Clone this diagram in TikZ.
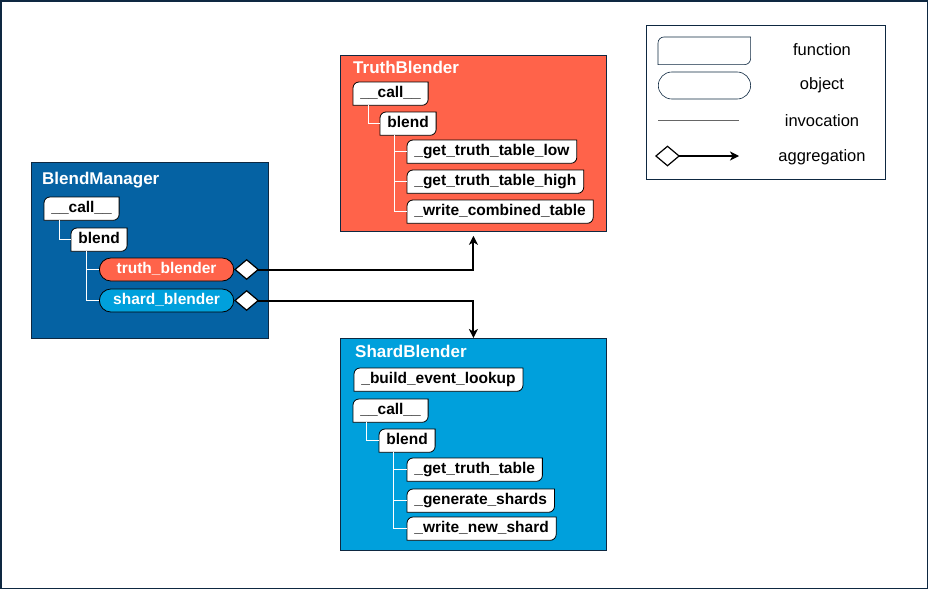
\documentclass[tikz,border=0pt]{standalone}
\usepackage{fontspec}
\setmainfont{Liberation Sans}
\usetikzlibrary{arrows.meta, positioning, shapes.misc}

\definecolor{framenavy}{HTML}{0E2841}
\definecolor{managerblue}{HTML}{0562A3}
\definecolor{truthred}{HTML}{FF634A}
\definecolor{shardblue}{HTML}{00A0DC}

% function box: rectangle with rounded top left and bottom right corners
\newdimen\fnleft \newdimen\fnright \newdimen\fntop \newdimen\fnbottom
\makeatletter
\pgfdeclareshape{funcbox}{
  \inheritsavedanchors[from=rectangle]
  \inheritanchorborder[from=rectangle]
  \inheritanchor[from=rectangle]{center}
  \inheritanchor[from=rectangle]{text}
  \inheritanchor[from=rectangle]{north}
  \inheritanchor[from=rectangle]{south}
  \inheritanchor[from=rectangle]{east}
  \inheritanchor[from=rectangle]{west}
  \inheritanchor[from=rectangle]{north east}
  \inheritanchor[from=rectangle]{north west}
  \inheritanchor[from=rectangle]{south east}
  \inheritanchor[from=rectangle]{south west}
  \inheritanchor[from=rectangle]{mid}
  \inheritanchor[from=rectangle]{base}
  \backgroundpath{
    \southwest \fnleft=\pgf@x \fnbottom=\pgf@y
    \northeast \fnright=\pgf@x \fntop=\pgf@y
    \pgfpathmoveto{\pgfqpoint{\fnleft}{\fnbottom}}
    \pgfpathlineto{\pgfpoint{\fnleft}{\fntop-6pt}}
    \pgfpatharc{180}{90}{6pt}
    \pgfpathlineto{\pgfqpoint{\fnright}{\fntop}}
    \pgfpathlineto{\pgfpoint{\fnright}{\fnbottom+6pt}}
    \pgfpatharc{0}{-90}{6pt}
    \pgfpathclose
  }
}
\makeatother

\tikzset{
  boxframe/.style={draw=framenavy, line width=0.8pt, anchor=north west, inner sep=0pt},
  boxtitle/.style={text=white, font=\bfseries\fontsize{17}{17}\selectfont, anchor=base west, inner sep=0pt},
  func/.style={funcbox, draw=black, fill=white, line width=0.8pt, minimum height=22.5pt,
    inner xsep=7pt, inner ysep=0pt, text height=11pt, text depth=3pt, anchor=north west,
    font=\bfseries\fontsize{15.5}{15.5}\selectfont},
  obj/.style={rounded rectangle, draw=black, line width=0.8pt, minimum height=23pt, minimum width=141pt,
    inner ysep=0pt, text height=11pt, text depth=3pt, text=white, anchor=west,
    font=\bfseries\fontsize{15.5}{15.5}\selectfont},
  tree/.style={draw=white, line width=1pt},
  aggr/.style={line width=2pt, {Diamond[fill=white, length=25pt, width=21pt, line width=1.2pt]}-{Stealth[length=9pt, width=9pt, inset=2.5pt]}},
  legtext/.style={font=\fontsize{16.5}{16.5}\selectfont},
}

\begin{document}
\begin{tikzpicture}[x=1pt, y=-1pt]

\useasboundingbox (0,0) rectangle (928,589);
\draw [framenavy, line width=1.5pt] (0.75,0.75) rectangle (927.25,588.25);

% BlendManager
\node [boxframe, fill=managerblue, minimum width=237pt, minimum height=176pt] (manager) at (31,162) {};
\node [boxtitle] (managertitle) at (42,184) {BlendManager};
\node [func] (mcall)  at (44,197)  {\_\_call\_\_};
\node [func] (mblend) at (71,228)  {blend};
\node [obj, fill=truthred]  (truthobj) at (99,269.5) {truth\_blender};
\node [obj, fill=shardblue] (shardobj) at (99,300.5) {shard\_blender};

\draw [tree] ([xshift=15pt]mcall.south west)  |- (mblend.west);
\draw [tree] ([xshift=15pt]mblend.south west) |- (truthobj.west);
\draw [tree] ([xshift=15pt]mblend.south west) |- (shardobj.west);

% TruthBlender
\node [boxframe, fill=truthred, minimum width=266pt, minimum height=176pt] (truthbox) at (340,55) {};
\node [boxtitle] (truthtitle) at (353,73) {TruthBlender};
\node [func] (tcall)  at (353,82)  {\_\_call\_\_};
\node [func] (tblend) at (380,112) {blend};
\node [func] (tlow)   at (407,140) {\_get\_truth\_table\_low};
\node [func] (thigh)  at (407,170) {\_get\_truth\_table\_high};
\node [func] (twrite) at (407,200) {\_write\_combined\_table};

\draw [tree] ([xshift=15pt]tcall.south west)  |- (tblend.west);
\draw [tree] ([xshift=14pt]tblend.south west) |- (tlow.west);
\draw [tree] ([xshift=14pt]tblend.south west) |- (thigh.west);
\draw [tree] ([xshift=14pt]tblend.south west) |- (twrite.west);

% ShardBlender
\node [boxframe, fill=shardblue, minimum width=266pt, minimum height=212pt] (shardbox) at (340,338) {};
\node [boxtitle] (shardtitle) at (355,357) {ShardBlender};
\node [func] (slookup) at (354,368) {\_build\_event\_lookup};
\node [func] (scall)   at (353,399) {\_\_call\_\_};
\node [func] (sblend)  at (379,429) {blend};
\node [func] (stable)  at (407,458) {\_get\_truth\_table};
\node [func] (sshards) at (407,489) {\_generate\_shards};
\node [func] (swrite)  at (407,517) {\_write\_new\_shard};

\draw [tree] ([xshift=13pt]scall.south west)  |- (sblend.west);
\draw [tree] ([xshift=14pt]sblend.south west) |- (stable.west);
\draw [tree] ([xshift=14pt]sblend.south west) |- (sshards.west);
\draw [tree] ([xshift=14pt]sblend.south west) |- (swrite.west);

% aggregation
\draw [aggr, shorten >=4pt] (truthobj.east) -| (truthbox.south);
\draw [aggr] (shardobj.east) -| (shardbox.north);

% legend
\node [boxframe, fill=white, minimum width=239pt, minimum height=154pt] (legend) at (646,25) {};
\node [func, draw=framenavy, line width=0.6pt, minimum width=92pt, minimum height=27pt] (legfunc) at (658,37) {};
\node [obj, fill=white, draw=framenavy, line width=0.6pt, minimum width=99pt, minimum height=27pt] (legobj) at (658,85.5) {};
\coordinate (invstart) at (658,120);
\coordinate (invend)   at (739,120);
\draw [gray!80!black, line width=0.6pt] (invstart) -- (invend);
\coordinate (aggstart) at (655,156);
\coordinate (aggend)   at (739,156);
\draw [aggr, line width=1.3pt] (aggstart) -- (aggend);

\node [legtext] (funclabel) at (822,50)  {function};
\node [legtext] (objlabel)  at (822,85)  {object};
\node [legtext] (invlabel)  at (822,121) {invocation};
\node [legtext] (agglabel)  at (822,157) {aggregation};

\end{tikzpicture}
\end{document}
